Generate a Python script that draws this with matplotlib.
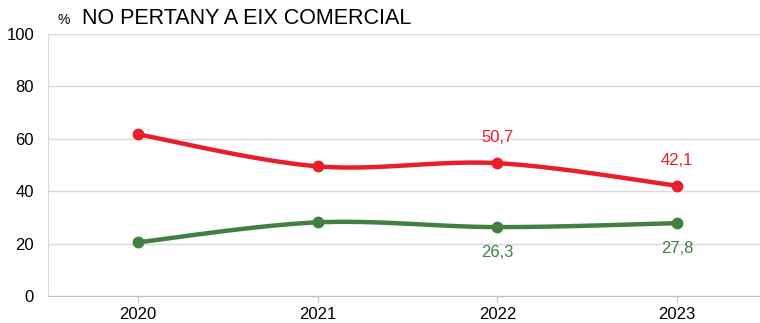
import matplotlib.pyplot as plt
import numpy as np

plt.rcParams['font.family'] = ['Liberation Sans', 'DejaVu Sans']

years = ['2020', '2021', '2022', '2023']
red_vals = [61.7, 49.5, 50.7, 42.1]
green_vals = [20.5, 28.1, 26.3, 27.8]
red_labels = {2: '50,7', 3: '42,1'}
green_labels = {2: '26,3', 3: '27,8'}

RED = '#E81E2A'
GREEN = '#418040'


def smooth(x, y, n=40):
    # Excel-like smoothed line: cubic bezier with catmull-rom style controls
    x = np.asarray(x, float)
    y = np.asarray(y, float)
    px, py = [], []
    for i in range(len(x) - 1):
        x0, y0 = (x[i - 1], y[i - 1]) if i > 0 else (x[i], y[i])
        x3, y3 = (x[i + 2], y[i + 2]) if i + 2 < len(x) else (x[i + 1], y[i + 1])
        c1 = (x[i] + (x[i + 1] - x0) / 6, y[i] + (y[i + 1] - y0) / 6)
        c2 = (x[i + 1] - (x3 - x[i]) / 6, y[i + 1] - (y3 - y[i]) / 6)
        t = np.linspace(0, 1, n)
        bx = (1 - t) ** 3 * x[i] + 3 * (1 - t) ** 2 * t * c1[0] + 3 * (1 - t) * t ** 2 * c2[0] + t ** 3 * x[i + 1]
        by = (1 - t) ** 3 * y[i] + 3 * (1 - t) ** 2 * t * c1[1] + 3 * (1 - t) * t ** 2 * c2[1] + t ** 3 * y[i + 1]
        px.extend(bx)
        py.extend(by)
    return px, py


fig = plt.figure(figsize=(7.6, 3.23), dpi=100)
ax = fig.add_axes([48 / 760, 27 / 323, 719 / 760, 262 / 323])

xs = np.arange(len(years))
for vals, col in [(red_vals, RED), (green_vals, GREEN)]:
    sx, sy = smooth(xs, vals)
    ax.plot(sx, sy, color=col, lw=3.2, solid_capstyle='round', zorder=3)
    ax.plot(xs, vals, 'o', color=col, ms=7.5, zorder=4)

for i, lab in red_labels.items():
    ax.annotate(lab, (xs[i], red_vals[i]), xytext=(0, 13), textcoords='offset points',
                ha='center', va='bottom', color=RED, fontsize=12)
for i, lab in green_labels.items():
    ax.annotate(lab, (xs[i], green_vals[i]), xytext=(0, -13), textcoords='offset points',
                ha='center', va='top', color=GREEN, fontsize=12)

ax.set_xlim(-0.5, 3.5)
ax.set_ylim(0, 100)
ax.set_yticks(range(0, 101, 20))
ax.set_xticks(xs)
ax.set_xticklabels(years)
ax.grid(axis='y', color='#D9D9D9', lw=1)
ax.set_axisbelow(True)
for s in ['top', 'right']:
    ax.spines[s].set_visible(False)
ax.spines['left'].set_color('#D9D9D9')
ax.spines['bottom'].set_color('#BFBFBF')
ax.tick_params(axis='y', length=0, pad=10, labelsize=12, colors='#000000')
ax.tick_params(axis='x', length=4, color='#BFBFBF', pad=4, labelsize=12)

fig.text(58 / 760, 1 - 24 / 323, '%', fontsize=10, va='baseline')
fig.text(82 / 760, 1 - 24 / 323, 'NO PERTANY A EIX COMERCIAL', fontsize=15.5, va='baseline')

fig.savefig('out.png', dpi=100)
